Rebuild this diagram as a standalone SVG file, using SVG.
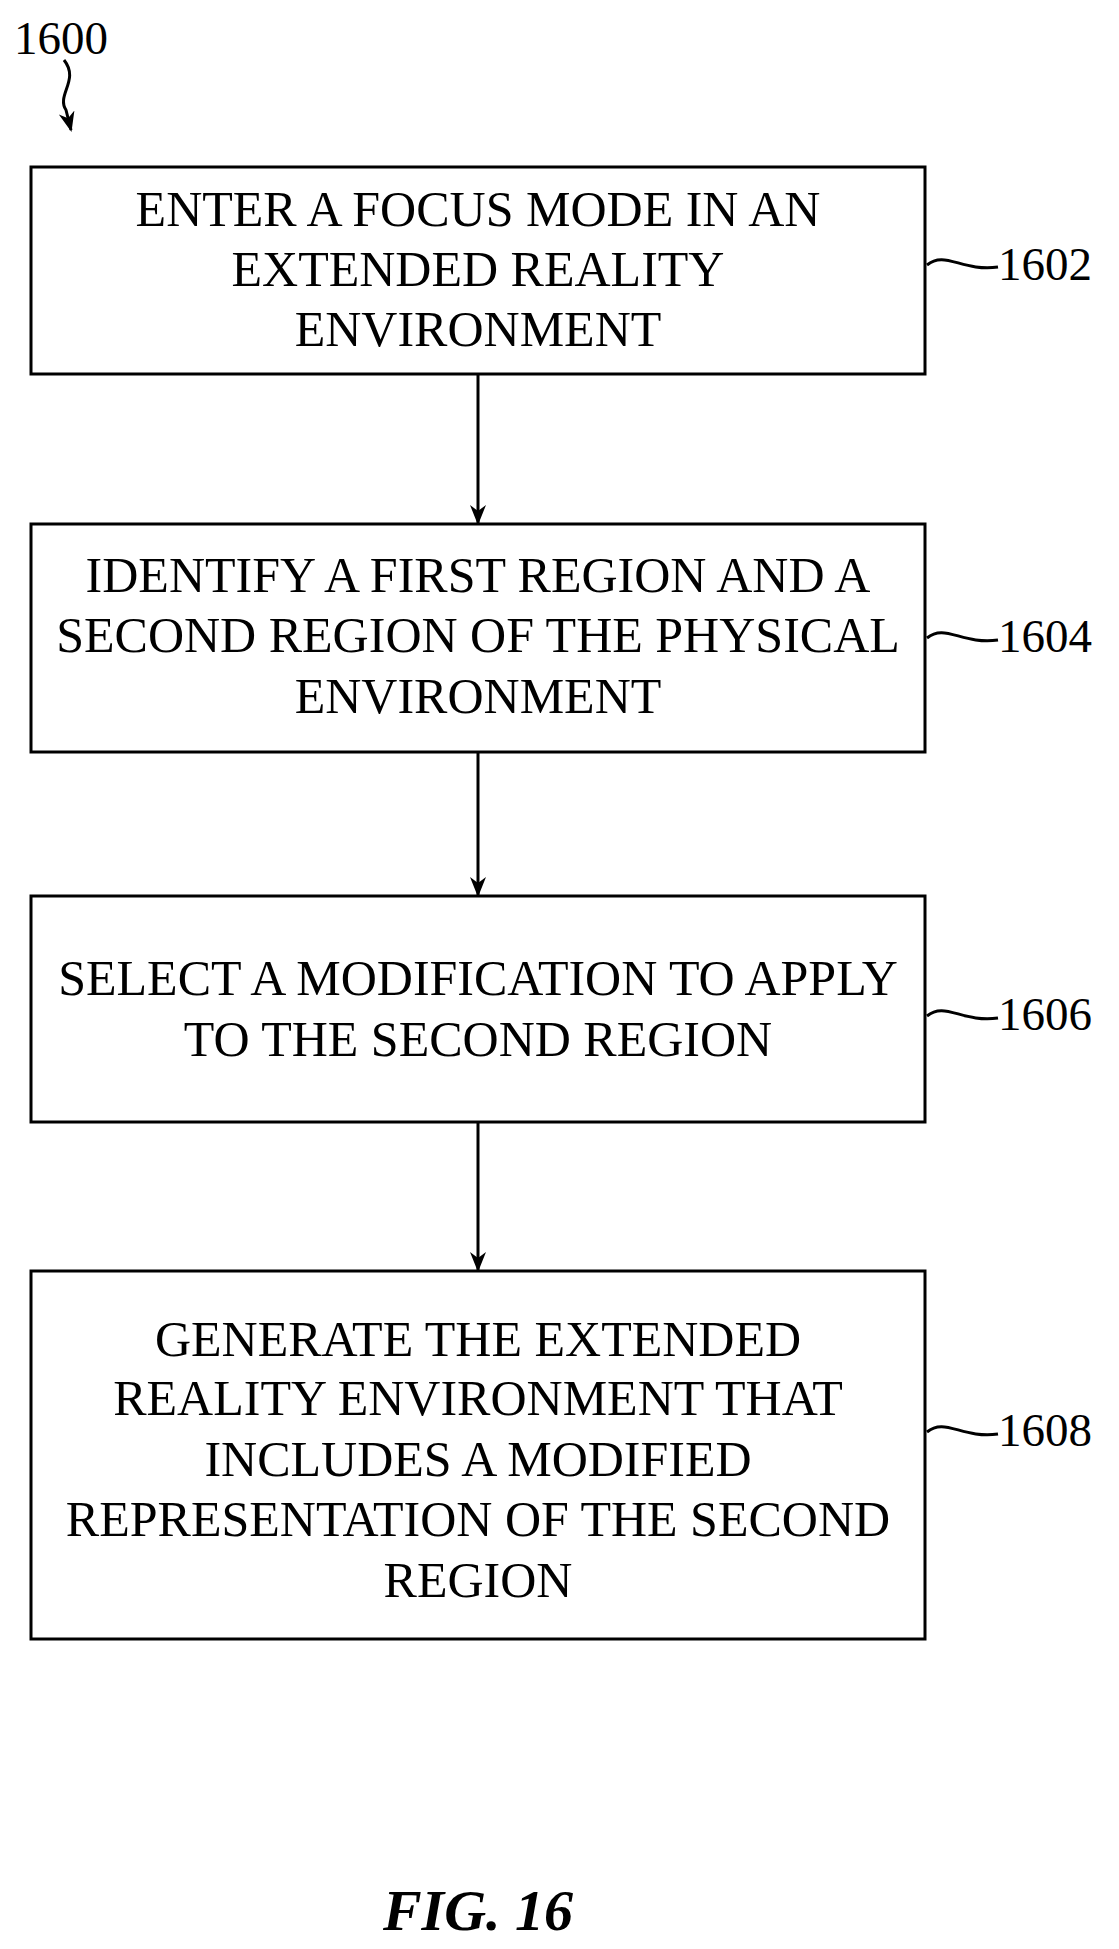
<svg xmlns="http://www.w3.org/2000/svg" width="1119" height="1949" viewBox="0 0 1119 1949">
<style>
.b{fill:#fff;stroke:#000;stroke-width:3}
.t{font-family:"Liberation Serif",serif;font-size:50px;text-anchor:middle;fill:#000}
.l{font-family:"Liberation Serif",serif;font-size:47px;fill:#000}
.c{fill:none;stroke:#000;stroke-width:3}
</style>
<defs>
<marker id="a2" markerWidth="20" markerHeight="20" refX="18" refY="10" orient="auto" markerUnits="userSpaceOnUse" viewBox="0 0 20 20"><path d="M0,2 L20,10 L0,18 L6,10 Z" fill="#000"/></marker></defs>
<g id="n1600"><text class="l" x="14" y="54">1600</text><path class="c" d="M64,60 C80,80 56,95 66,110 L71,130" marker-end="url(#a2)"/></g>
<g id="n1602"><rect class="b" x="31" y="167" width="894" height="207"/>
<text class="t" x="478" y="226">ENTER A FOCUS MODE IN AN</text><text class="t" x="478" y="286">EXTENDED REALITY</text><text class="t" x="478" y="346">ENVIRONMENT</text>
<path class="c" d="M927,265 C945,250 962,272 998,267"/><text class="l" x="998" y="280">1602</text></g>
<g id="n1604"><rect class="b" x="31" y="524" width="894" height="228"/>
<text class="t" x="478" y="592">IDENTIFY A FIRST REGION AND A</text><text class="t" x="478" y="652">SECOND REGION OF THE PHYSICAL</text><text class="t" x="478" y="713">ENVIRONMENT</text>
<path class="c" d="M927,638 C945,623 962,645 998,640"/><text class="l" x="998" y="652">1604</text></g>
<g id="n1606"><rect class="b" x="31" y="896" width="894" height="226"/>
<text class="t" x="478" y="995">SELECT A MODIFICATION TO APPLY</text><text class="t" x="478" y="1056">TO THE SECOND REGION</text>
<path class="c" d="M927,1016 C945,1001 962,1023 998,1018"/><text class="l" x="998" y="1030">1606</text></g>
<g id="n1608"><rect class="b" x="31" y="1271" width="894" height="368"/>
<text class="t" x="478" y="1356">GENERATE THE EXTENDED</text><text class="t" x="478" y="1415">REALITY ENVIRONMENT THAT</text><text class="t" x="478" y="1476">INCLUDES A MODIFIED</text><text class="t" x="478" y="1536">REPRESENTATION OF THE SECOND</text><text class="t" x="478" y="1597">REGION</text>
<path class="c" d="M927,1432 C945,1417 962,1439 998,1434"/><text class="l" x="998" y="1446">1608</text></g>
<g id="connectors">
<line class="c" x1="478" y1="374" x2="478" y2="523" marker-end="url(#a2)"/>
<line class="c" x1="478" y1="752" x2="478" y2="895" marker-end="url(#a2)"/>
<line class="c" x1="478" y1="1122" x2="478" y2="1270" marker-end="url(#a2)"/>
</g>
<text x="478" y="1930" style="font-family:'Liberation Serif',serif;font-size:58px;font-weight:bold;font-style:italic;text-anchor:middle">FIG. 16</text>
</svg>
